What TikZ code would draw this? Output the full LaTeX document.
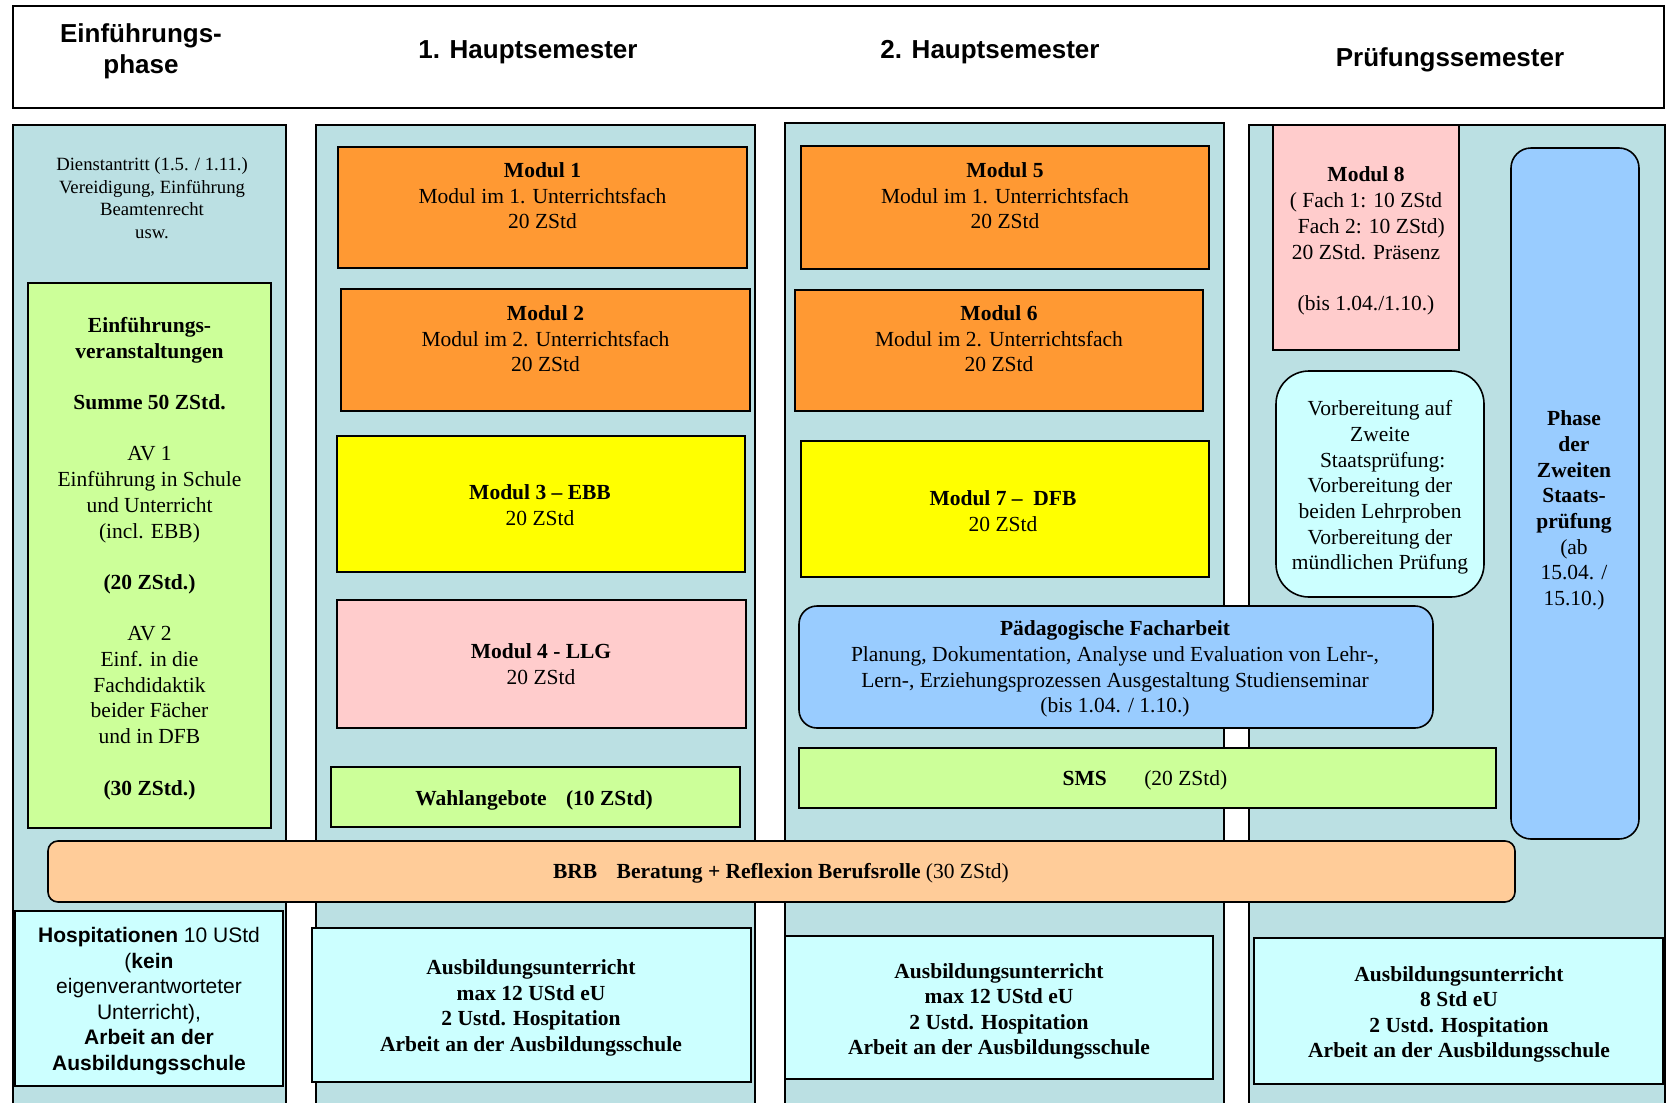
\documentclass[tikz,border=0pt]{standalone}
\usepackage{fontspec}
\setmainfont{Liberation Serif}
\newfontfamily\arialfont{Liberation Sans}
\usetikzlibrary{fit}
\definecolor{colbg}{RGB}{187,224,227}
\definecolor{orangem}{RGB}{255,153,51}
\definecolor{yellowm}{RGB}{255,255,0}
\definecolor{pinkm}{RGB}{255,204,204}
\definecolor{greenm}{RGB}{204,255,153}
\definecolor{cyanm}{RGB}{204,255,255}
\definecolor{bluem}{RGB}{153,204,255}
\definecolor{peachm}{RGB}{255,204,153}
\tikzset{
  colbox/.style={draw=black, line width=1.5pt, fill=colbg, inner sep=0pt, outer sep=0pt},
  modbox/.style={draw=black, line width=1.8pt, inner sep=0pt, outer sep=0pt},
  txt/.style={align=center, inner sep=0pt, font=\fontsize{21.5}{25.7}\selectfont},
  smalltxt/.style={align=center, inner sep=0pt, font=\fontsize{18.7}{22.5}\selectfont},
  headtxt/.style={align=center, inner sep=0pt, font=\arialfont\bfseries\fontsize{26}{31}\selectfont},
  sanstxt/.style={align=center, inner sep=0pt, font=\arialfont\fontsize{21}{25.5}\selectfont},
  boldtxt/.style={align=center, inner sep=0pt, font=\bfseries\fontsize{21.5}{25.5}\selectfont},
}
\begin{document}
\begin{tikzpicture}[x=1pt, y=-1pt]
\clip (0,0) rectangle (1666,1103);
\fill[white] (0,0) rectangle (1666,1103);

% columns
\node[colbox, fit={(13,125)(286,1115)}] (c1) {};
\node[colbox, fit={(316,125)(755,1115)}] (c2) {};
\node[colbox, fit={(785,123)(1224,1115)}] (c3) {};
\node[colbox, fit={(1249,125)(1665,1115)}] (c4) {};

% header
\node[modbox, fill=white, line width=2pt, fit={(13,6)(1664,108)}] (head) {};
\node[headtxt] (h1) at (141,51) {Einführungs-\\phase};
\node[headtxt] (h2) at (528,52) {1. Hauptsemester};
\node[headtxt] (h3) at (990,52) {2. Hauptsemester};
\node[headtxt] (h4) at (1450,60) {Prüfungssemester};

% column 1
\node[smalltxt] (dienst) at (152,198) {Dienstantritt (1.5. / 1.11.)\\Vereidigung, Einführung\\Beamtenrecht\\usw.};
\node[modbox, line width=1.6pt, fill=greenm, fit={(28,283)(271,828)}] (ev) {};
\node[txt] (evt) at (149.5,558.5) {\textbf{Einführungs-}\\\textbf{veranstaltungen}\\[25.7pt]\textbf{Summe 50 ZStd.}\\[25.7pt]AV 1\\Einführung in Schule\\und Unterricht\\(incl. EBB)\\[25.7pt]\textbf{(20 ZStd.)}\\[25.7pt]AV 2\\Einf. in die\\Fachdidaktik\\beider Fächer\\und in DFB\\[25.7pt]\textbf{(30 ZStd.)}};

% column 2
\node[modbox, fill=orangem, fit={(338,147)(747,268)}] (m1) {};
\node[txt] (m1t) at (542.5,195.7) {\textbf{Modul 1}\\Modul im 1. Unterrichtsfach\\20 ZStd};
\node[modbox, fill=orangem, fit={(341,289)(750,411)}] (m2) {};
\node[txt] (m2t) at (545.5,338.7) {\textbf{Modul 2}\\Modul im 2. Unterrichtsfach\\20 ZStd};
\node[modbox, fill=yellowm, fit={(337,436)(745,572)}] (m3) {};
\node[txt] (m3t) at (540,505) {\textbf{Modul 3 – EBB}\\20 ZStd};
\node[modbox, line width=1.6pt, fill=pinkm, fit={(337,600)(746,728)}] (m4) {};
\node[txt] (m4t) at (541,664) {\textbf{Modul 4 - LLG}\\20 ZStd};
\node[modbox, fill=greenm, fit={(331,767)(740,827)}] (wa) {};
\node[txt] (wat) at (534,800) {\textbf{Wahlangebote\hspace{14pt} (10 ZStd)}};

% column 3
\node[modbox, fill=orangem, fit={(801,146)(1209,269)}] (m5) {};
\node[txt] (m5t) at (1005,195.7) {\textbf{Modul 5}\\Modul im 1. Unterrichtsfach\\20 ZStd};
\node[modbox, fill=orangem, fit={(795,290)(1203,411)}] (m6) {};
\node[txt] (m6t) at (999,338.7) {\textbf{Modul 6}\\Modul im 2. Unterrichtsfach\\20 ZStd};
\node[modbox, fill=yellowm, fit={(801,441)(1209,577)}] (m7) {};
\node[txt] (m7t) at (1003,511) {\textbf{Modul 7 –\ \ DFB}\\20 ZStd};

% column 4
\node[modbox, line width=1.6pt, fill=pinkm, fit={(1273,125)(1459,350)}] (m8) {};
\node[txt] (m8t) at (1366,241) {\textbf{Modul 8}\\( Fach 1: 10 ZStd\\\ \ Fach 2: 10 ZStd)\\20 ZStd. Präsenz\\[25.7pt](bis 1.04./1.10.)};
\node[modbox, line width=1.6pt, fill=cyanm, rounded corners=33pt, fit={(1276,371)(1484,597)}] (vb) {};
\node[txt] (vbt) at (1380,487.5) {Vorbereitung auf\\Zweite\\\ Staatsprüfung:\\Vorbereitung der\\beiden Lehrproben\\Vorbereitung der\\mündlichen Prüfung};
\node[modbox, line width=1.6pt, fill=bluem, rounded corners=20pt, fit={(1511,148)(1639,839)}] (ph) {};
\node[txt] (pht) at (1574,510.5) {\textbf{Phase}\\\textbf{der}\\\textbf{Zweiten}\\\textbf{Staats-}\\\textbf{prüfung}\\(ab\\15.04. /\\15.10.)};

% wide boxes
\node[modbox, line width=1.6pt, fill=bluem, rounded corners=18pt, fit={(799,606)(1433,728)}] (pf) {};
\node[txt] (pft) at (1115,669) {\textbf{Pädagogische Facharbeit}\\Planung, Dokumentation, Analyse und Evaluation von Lehr-,\\Lern-, Erziehungsprozessen Ausgestaltung Studienseminar\\(bis 1.04. / 1.10.)};
\node[modbox, line width=1.6pt, fill=greenm, fit={(799,748)(1496,808)}] (sms) {};
\node[txt] (smst) at (1145,780) {\textbf{SMS}\hspace{32pt} (20 ZStd)};
\node[modbox, line width=1.6pt, fill=peachm, rounded corners=10pt, fit={(48,841)(1515,902)}] (brb) {};
\node[txt] (brbt) at (781,873) {\textbf{BRB\hspace{14pt} Beratung + Reflexion Berufsrolle} (30 ZStd)};

% bottom boxes
\node[modbox, line width=1.6pt, fill=cyanm, fit={(15,911)(283,1086)}] (ho) {};
\node[sanstxt] (hot) at (149,1001) {\textbf{Hospitationen} 10 UStd\\(\textbf{kein}\\eigenverantworteter\\Unterricht),\\\textbf{Arbeit an der}\\\textbf{Ausbildungsschule}};
\node[modbox, line width=1.6pt, fill=cyanm, fit={(312,928)(751,1082)}] (a2) {};
\node[boldtxt] (a2t) at (531,1008) {Ausbildungsunterricht\\max 12 UStd eU\\2 Ustd. Hospitation\\Arbeit an der Ausbildungsschule};
\node[modbox, line width=1.6pt, fill=cyanm, fit={(785,936)(1213,1079)}] (a3) {};
\node[boldtxt] (a3t) at (999,1011.5) {Ausbildungsunterricht\\max 12 UStd eU\\2 Ustd. Hospitation\\Arbeit an der Ausbildungsschule};
\node[modbox, line width=1.6pt, fill=cyanm, fit={(1254,938)(1663,1084)}] (a4) {};
\node[boldtxt] (a4t) at (1459,1014.5) {Ausbildungsunterricht\\8 Std eU\\2 Ustd. Hospitation\\Arbeit an der Ausbildungsschule};
\end{tikzpicture}
\end{document}
